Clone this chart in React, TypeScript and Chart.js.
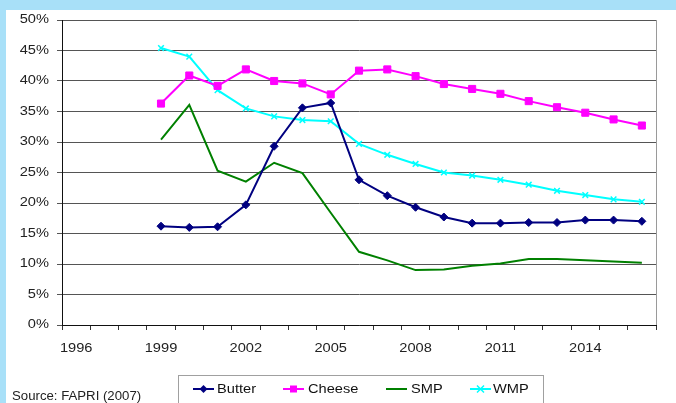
import React, { useEffect, useRef } from "react";
import { Chart, registerables } from "chart.js";

Chart.register(...registerables);

// Market years on the category axis
const years = [
  "1996", "1997", "1998", "1999", "2000", "2001", "2002", "2003", "2004", "2005", "2006",
  "2007", "2008", "2009", "2010", "2011", "2012", "2013", "2014", "2015", "2016",
];

// Shares in percent, series start in 1999
const butter = [
  null, null, null, 16.2, 16.0, 16.1, 19.7, 29.3, 35.6, 36.4, 23.8,
  21.2, 19.3, 17.7, 16.7, 16.7, 16.8, 16.8, 17.2, 17.2, 17.0,
];
const cheese = [
  null, null, null, 36.3, 40.9, 39.2, 41.9, 40.0, 39.6, 37.8, 41.7,
  41.9, 40.8, 39.5, 38.7, 37.9, 36.7, 35.7, 34.8, 33.7, 32.7,
];
const smp = [
  null, null, null, 30.4, 36.1, 25.3, 23.5, 26.6, 24.9, 18.4, 12.0,
  10.6, 9.0, 9.1, 9.7, 10.1, 10.8, 10.8, 10.6, 10.4, 10.2,
];
const wmp = [
  null, null, null, 45.4, 44.0, 38.5, 35.5, 34.2, 33.6, 33.4, 29.7,
  27.9, 26.4, 25.0, 24.5, 23.8, 23.0, 22.0, 21.3, 20.6, 20.2,
];

const yTicks = [0, 5, 10, 15, 20, 25, 30, 35, 40, 45, 50];
const sourceNote = "Source: FAPRI (2007)";

const FONT = "'Liberation Sans', Arial, sans-serif";
// Labels use a slightly widened face
const TEXT_STRETCH = 1.17;

function stretchedText(
  ctx: CanvasRenderingContext2D,
  text: string,
  x: number,
  y: number,
  align: CanvasTextAlign,
  size: number,
  stretch: number = TEXT_STRETCH,
) {
  ctx.save();
  ctx.translate(x, y);
  ctx.scale(stretch, 1);
  ctx.font = `${size}px ${FONT}`;
  ctx.textAlign = align;
  ctx.textBaseline = "middle";
  ctx.fillText(text, 0, 0);
  ctx.restore();
}

function drawMarker(ctx: CanvasRenderingContext2D, style: string, x: number, y: number, color: string) {
  ctx.fillStyle = color;
  ctx.strokeStyle = color;
  ctx.lineWidth = 1.5;
  ctx.beginPath();
  if (style === "rectRot") {
    ctx.moveTo(x - 4, y);
    ctx.lineTo(x, y - 4);
    ctx.lineTo(x + 4, y);
    ctx.lineTo(x, y + 4);
    ctx.closePath();
    ctx.fill();
  } else if (style === "rect") {
    ctx.rect(x - 3.5, y - 3.5, 7, 7);
    ctx.fill();
  } else if (style === "crossRot") {
    ctx.moveTo(x - 3.5, y - 3.5);
    ctx.lineTo(x + 3.5, y + 3.5);
    ctx.moveTo(x + 3.5, y - 3.5);
    ctx.lineTo(x - 3.5, y + 3.5);
    ctx.stroke();
  }
}

// Axis labels, right frame of the plot, boxed legend and the source note
const decorations = {
  id: "decorations",
  afterDraw(chart: any) {
    const { ctx, chartArea: a } = chart;
    const xs = chart.scales.x;
    const ys = chart.scales.y;
    ctx.save();

    ctx.fillStyle = "#222";
    yTicks.forEach((v) => {
      stretchedText(ctx, `${v}%`, a.left - 13, ys.getPixelForValue(v), "right", 12.5);
    });
    years.forEach((label, i) => {
      if (i % 3 === 0) stretchedText(ctx, label, xs.getPixelForTick(i), a.bottom + 24, "center", 12.5);
    });

    ctx.strokeStyle = "#9a9a9a";
    ctx.lineWidth = 1;
    ctx.beginPath();
    ctx.moveTo(Math.round(a.right) + 0.5, a.top);
    ctx.lineTo(Math.round(a.right) + 0.5, a.bottom);
    ctx.stroke();

    const boxX = 172;
    const boxY = 365;
    const boxW = 365;
    ctx.strokeStyle = "#a0a0a0";
    ctx.strokeRect(boxX + 0.5, boxY + 0.5, boxW, 50);

    const lineStarts = [15, 105, 208, 292];
    const textStarts = [39, 130, 233, 315];
    const cy = boxY + 14;
    chart.data.datasets.forEach((ds: any, i: number) => {
      const x0 = boxX + lineStarts[i];
      ctx.strokeStyle = ds.borderColor;
      ctx.lineWidth = 2;
      ctx.beginPath();
      ctx.moveTo(x0, cy);
      ctx.lineTo(x0 + 21, cy);
      ctx.stroke();
      if (ds.pointRadius > 0) drawMarker(ctx, ds.pointStyle, x0 + 10.5, cy, ds.borderColor);
      ctx.fillStyle = "#111";
      stretchedText(ctx, ds.label, boxX + textStarts[i], cy + 1, "left", 12.5);
    });

    ctx.fillStyle = "#222";
    stretchedText(ctx, sourceNote, 6, 387, "left", 12, 1.1);
    ctx.restore();
  },
};

export default function App() {
  const canvasRef = useRef<HTMLCanvasElement | null>(null);

  useEffect(() => {
    document.body.style.margin = "0";
    const canvas = canvasRef.current;
    if (!canvas) return;
    const chart = new Chart(canvas, {
      type: "line",
      data: {
        labels: years,
        datasets: [
          {
            label: "Butter",
            data: butter,
            borderColor: "#000080",
            backgroundColor: "#000080",
            borderWidth: 2,
            pointStyle: "rectRot",
            pointRadius: 4,
            pointBorderWidth: 1,
          },
          {
            label: "Cheese",
            data: cheese,
            borderColor: "#ff00ff",
            backgroundColor: "#ff00ff",
            borderWidth: 2,
            pointStyle: "rect",
            pointRadius: 5,
            pointBorderWidth: 1,
          },
          {
            label: "SMP",
            data: smp,
            borderColor: "#008000",
            backgroundColor: "#008000",
            borderWidth: 2,
            pointRadius: 0,
          },
          {
            label: "WMP",
            data: wmp,
            borderColor: "#00ffff",
            backgroundColor: "#00ffff",
            borderWidth: 2,
            pointStyle: "crossRot",
            pointRadius: 4,
            pointBorderWidth: 1.5,
          },
        ],
      },
      options: {
        animation: false,
        responsive: true,
        maintainAspectRatio: false,
        spanGaps: false,
        layout: { padding: { left: 0, top: 10, right: 20, bottom: 48 } },
        plugins: {
          legend: { display: false },
          tooltip: { enabled: false },
        },
        scales: {
          x: {
            type: "category",
            offset: true,
            grid: {
              display: true,
              offset: true,
              drawOnChartArea: false,
              drawTicks: true,
              tickLength: 5,
              color: "#333",
            },
            border: { display: true, color: "#111", width: 1 },
            ticks: { display: false, autoSkip: false },
            afterFit: (s: any) => {
              s.height = 30;
              s.paddingLeft = 0;
              s.paddingRight = 0;
            },
          },
          y: {
            min: yTicks[0],
            max: yTicks[yTicks.length - 1],
            afterBuildTicks: (s: any) => {
              s.ticks = yTicks.map((v) => ({ value: v }));
            },
            grid: { color: "#555", lineWidth: 1, tickLength: 5, drawTicks: true },
            border: { display: true, color: "#111", width: 1 },
            ticks: { display: false },
            afterFit: (s: any) => {
              s.width = 56;
              s.paddingTop = 0;
              s.paddingBottom = 0;
            },
          },
        },
      },
      plugins: [decorations],
    });
    return () => chart.destroy();
  }, []);

  return (
    <div style={{ width: 676, height: 403, background: "#a8e0f8", position: "relative", overflow: "hidden" }}>
      <div style={{ position: "absolute", left: 6, top: 10, width: 670, height: 393, background: "#fff" }}>
        <canvas ref={canvasRef} />
      </div>
    </div>
  );
}
